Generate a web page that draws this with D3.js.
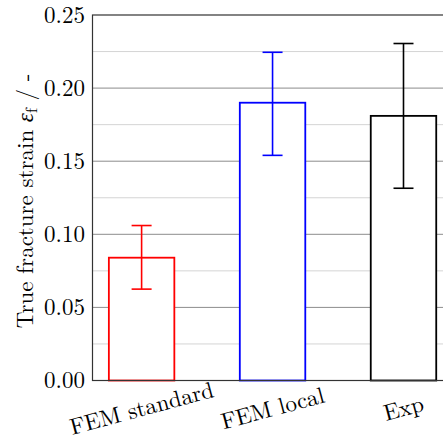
<!DOCTYPE html>
<html>
<head>
<meta charset="utf-8">
<script src="https://cdn.jsdelivr.net/npm/d3@7"></script>
<style>
  body{margin:0;background:#fff}
</style>
</head>
<body>
<svg id="chart" width="443" height="442"></svg>
<script>
// data
const categories=["FEM standard","FEM local","Exp"]
const means=[0.084,0.190,0.181]
const errLow=[0.0625,0.154,0.1315]
const errHigh=[0.106,0.2245,0.2305]
const colors=["#ff0000","#0000ff","#000000"]
const majorTicks=[0,0.05,0.10,0.15,0.20,0.25]
const minorTicks=[0.025,0.075,0.125,0.175,0.225]

const FONT="'Latin Modern Roman','Liberation Serif',serif"
const FS=23
const m={left:92.5, top:15, right:452.6, bottom:380.5}
const svg=d3.select("#chart").attr("font-family",FONT)

const x=d3.scalePoint().domain(categories).range([m.left,m.right]).padding(0.375)
const y=d3.scaleLinear().domain([0,0.25]).range([m.bottom,m.top])
const bw=x.step()*0.5

// grid
svg.append("g").selectAll("line").data(minorTicks).join("line")
  .attr("x1",m.left).attr("x2",m.right)
  .attr("y1",d=>y(d)).attr("y2",d=>y(d))
  .attr("stroke","#d4d4d4").attr("stroke-width",1)
svg.append("g").selectAll("line").data(majorTicks.slice(1,-1)).join("line")
  .attr("x1",m.left).attr("x2",m.right)
  .attr("y1",d=>y(d)).attr("y2",d=>y(d))
  .attr("stroke","#8c8c8c").attr("stroke-width",1)

// bars
const data=categories.map((c,i)=>({c,v:means[i],lo:errLow[i],hi:errHigh[i],col:colors[i]}))
svg.append("g").selectAll("rect").data(data).join("rect")
  .attr("x",d=>x(d.c)-bw/2).attr("width",bw)
  .attr("y",d=>y(d.v)).attr("height",d=>y(0)-y(d.v))
  .attr("fill","#fff").attr("stroke",d=>d.col).attr("stroke-width",1.8)

// error bars
const cap=10
const eb=svg.append("g").selectAll("g").data(data).join("g")
  .attr("stroke",d=>d.col).attr("stroke-width",1.6)
eb.append("line").attr("x1",d=>x(d.c)).attr("x2",d=>x(d.c))
  .attr("y1",d=>y(d.lo)).attr("y2",d=>y(d.hi))
eb.append("line").attr("x1",d=>x(d.c)-cap).attr("x2",d=>x(d.c)+cap)
  .attr("y1",d=>y(d.lo)).attr("y2",d=>y(d.lo))
eb.append("line").attr("x1",d=>x(d.c)-cap).attr("x2",d=>x(d.c)+cap)
  .attr("y1",d=>y(d.hi)).attr("y2",d=>y(d.hi))

// frame
svg.append("rect").attr("x",m.left).attr("y",m.top)
  .attr("width",m.right-m.left).attr("height",m.bottom-m.top)
  .attr("fill","none").attr("stroke","#333").attr("stroke-width",1.2)

// y tick labels
svg.append("g").selectAll("text").data(majorTicks).join("text")
  .attr("x",85).attr("y",d=>y(d)).attr("dy","0.33em")
  .attr("text-anchor","end").attr("font-size",FS)
  .text(d=>d3.format(".2f")(d))

// x tick labels, rotated
svg.append("g").selectAll("text").data(categories).join("text")
  .attr("transform",c=>`translate(${x(c)},408) rotate(-15)`)
  .attr("text-anchor","middle").attr("dy","0.35em").attr("font-size",FS)
  .text(c=>c)

// y label
const yl=svg.append("text").attr("transform","translate(33,201) rotate(-90)")
  .attr("text-anchor","middle").attr("font-size",FS)
yl.append("tspan").text("True fracture strain ")
yl.append("tspan").attr("font-style","italic").text("ε")
yl.append("tspan").attr("font-size",16).attr("dy",3.5).text("f")
yl.append("tspan").attr("dy",-3.5).text(" / -")
</script>
</body>
</html>
